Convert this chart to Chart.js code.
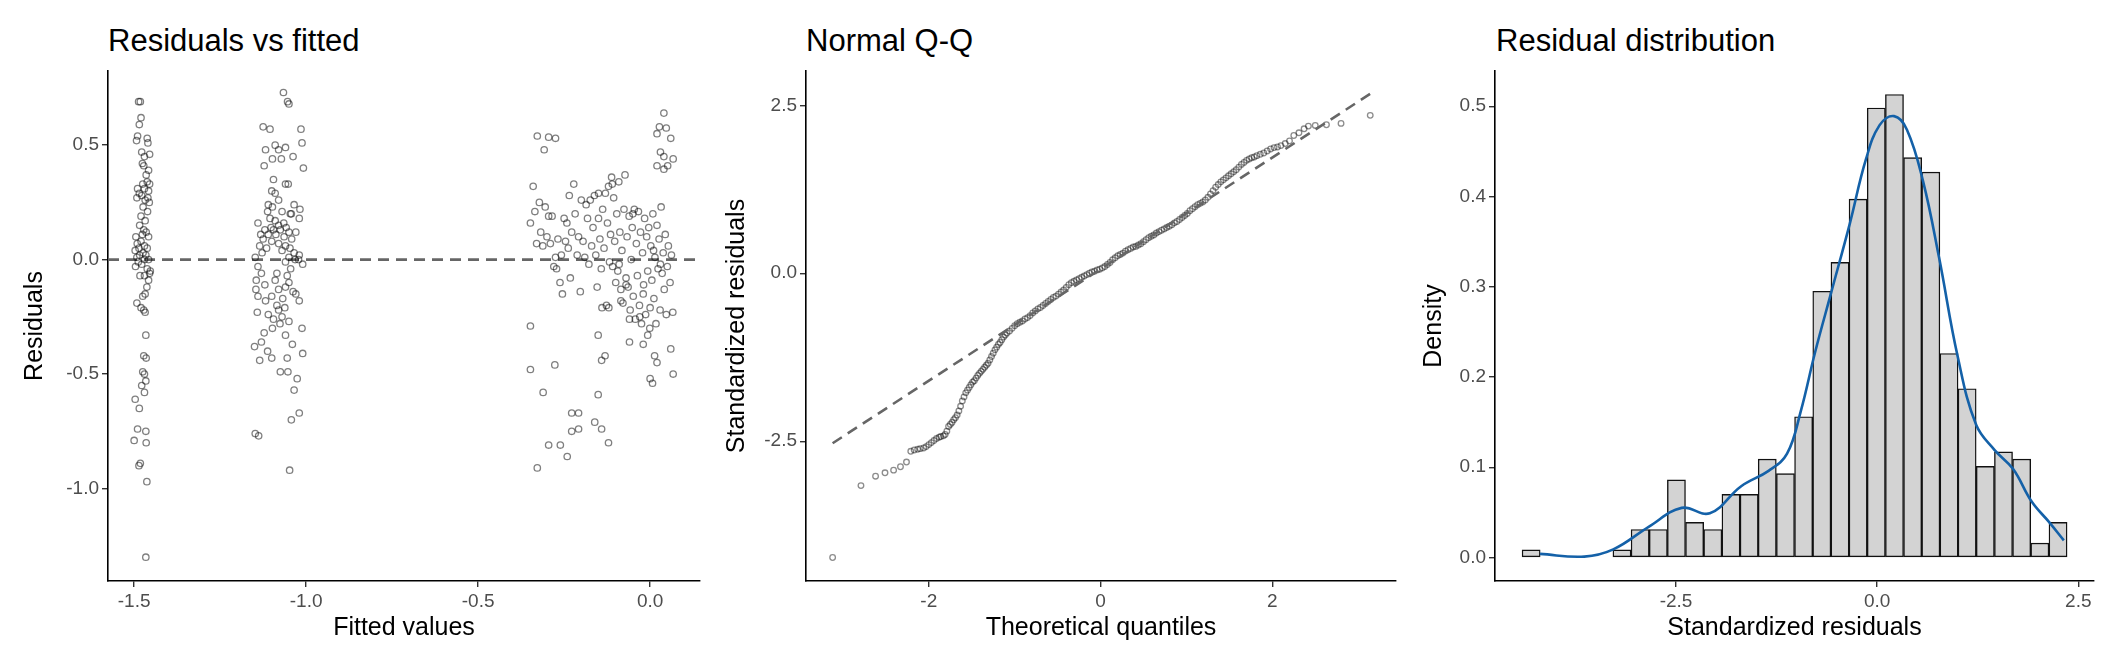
<!DOCTYPE html>
<html>
<head>
<meta charset="utf-8">
<script src="https://cdn.jsdelivr.net/npm/chart.js@4/dist/chart.umd.min.js"></script>
<style>
  body { margin: 0; background: #fff; }
  #wrap { position: relative; width: 2112px; height: 672px; overflow: hidden; }
  canvas { position: absolute; top: 0; }
  .ttl { position: absolute; top: 25px; font: 31px "Liberation Sans", Arial, sans-serif; line-height: 1; color: #000; white-space: nowrap; }
</style>
</head>
<body>
<div id="wrap">
  <div class="ttl" style="left:108px">Residuals vs fitted</div>
  <div class="ttl" style="left:806px">Normal Q-Q</div>
  <div class="ttl" style="left:1496px">Residual distribution</div>
  <div style="position:absolute;left:0;width:710px;height:672px"><canvas id="c1"></canvas></div>
  <div style="position:absolute;left:704px;width:700px;height:672px"><canvas id="c2"></canvas></div>
  <div style="position:absolute;left:1408px;width:704px;height:672px"><canvas id="c3"></canvas></div>
</div>
<script>
// residuals vs fitted, three groups of fitted values [fitted, residual]
const groupLow = [[-1.487,0.69],[-1.482,0.69],[-1.480,0.62],[-1.485,0.59],[-1.490,0.54],[-1.493,0.52],[-1.462,0.53],[-1.460,0.51],[-1.478,0.47],[-1.455,0.46],[-1.470,0.45],[-1.476,0.42],[-1.472,0.41],[-1.458,0.39],[-1.465,0.37],[-1.462,0.34],[-1.475,0.33],[-1.455,0.33],[-1.490,0.31],[-1.470,0.31],[-1.458,0.30],[-1.485,0.29],[-1.478,0.28],[-1.460,0.27],[-1.492,0.27],[-1.468,0.26],[-1.456,0.25],[-1.474,0.23],[-1.461,0.21],[-1.480,0.19],[-1.468,0.17],[-1.484,0.15],[-1.472,0.13],[-1.465,0.12],[-1.476,0.11],[-1.495,0.10],[-1.458,0.10],[-1.480,0.08],[-1.491,0.07],[-1.470,0.06],[-1.486,0.05],[-1.462,0.05],[-1.497,0.04],[-1.474,0.03],[-1.466,0.02],[-1.484,0.02],[-1.492,0.01],[-1.470,0.00],[-1.458,0.00],[-1.488,-0.01],[-1.478,-0.02],[-1.496,-0.03],[-1.462,-0.04],[-1.453,-0.05],[-1.455,-0.06],[-1.483,-0.07],[-1.470,-0.07],[-1.458,-0.09],[-1.463,-0.12],[-1.468,-0.15],[-1.475,-0.16],[-1.492,-0.19],[-1.480,-0.21],[-1.472,-0.22],[-1.468,-0.23],[-1.466,-0.33],[-1.472,-0.42],[-1.465,-0.43],[-1.475,-0.49],[-1.470,-0.50],[-1.466,-0.53],[-1.478,-0.55],[-1.470,-0.58],[-1.497,-0.61],[-1.485,-0.65],[-1.490,-0.74],[-1.466,-0.75],[-1.500,-0.79],[-1.465,-0.80],[-1.482,-0.89],[-1.486,-0.90],[-1.463,-0.97],[-1.466,-1.30]];
const groupMid = [[-1.066,0.73],[-1.054,0.69],[-1.050,0.68],[-1.125,0.58],[-1.105,0.57],[-1.015,0.57],[-1.012,0.51],[-1.090,0.50],[-1.080,0.48],[-1.118,0.48],[-1.060,0.49],[-1.038,0.45],[-1.098,0.44],[-1.072,0.44],[-1.122,0.41],[-1.008,0.40],[-1.095,0.35],[-1.060,0.33],[-1.052,0.33],[-1.100,0.30],[-1.090,0.29],[-1.080,0.26],[-1.035,0.24],[-1.110,0.24],[-1.098,0.23],[-1.018,0.22],[-1.112,0.21],[-1.070,0.21],[-1.046,0.20],[-1.043,0.20],[-1.105,0.18],[-1.020,0.18],[-1.090,0.17],[-1.065,0.16],[-1.140,0.16],[-1.080,0.15],[-1.102,0.14],[-1.058,0.14],[-1.120,0.13],[-1.095,0.13],[-1.075,0.13],[-1.050,0.12],[-1.030,0.12],[-1.132,0.11],[-1.110,0.11],[-1.088,0.11],[-1.064,0.10],[-1.125,0.09],[-1.042,0.09],[-1.100,0.08],[-1.080,0.07],[-1.060,0.06],[-1.135,0.06],[-1.115,0.05],[-1.047,0.05],[-1.070,0.04],[-1.128,0.03],[-1.035,0.03],[-1.020,0.02],[-1.148,0.01],[-1.050,0.01],[-1.032,0.00],[-1.022,0.00],[-1.060,-0.01],[-1.010,-0.02],[-1.045,-0.04],[-1.140,-0.03],[-1.130,-0.06],[-1.085,-0.06],[-1.055,-0.07],[-1.145,-0.09],[-1.090,-0.09],[-1.050,-0.10],[-1.120,-0.11],[-1.060,-0.12],[-1.146,-0.13],[-1.080,-0.13],[-1.038,-0.14],[-1.030,-0.15],[-1.140,-0.16],[-1.100,-0.16],[-1.068,-0.17],[-1.118,-0.18],[-1.020,-0.18],[-1.085,-0.20],[-1.062,-0.21],[-1.080,-0.22],[-1.142,-0.23],[-1.110,-0.24],[-1.070,-0.25],[-1.095,-0.26],[-1.050,-0.27],[-1.076,-0.28],[-1.098,-0.30],[-1.012,-0.30],[-1.122,-0.32],[-1.060,-0.33],[-1.130,-0.36],[-1.040,-0.37],[-1.150,-0.38],[-1.112,-0.40],[-1.100,-0.43],[-1.135,-0.44],[-1.055,-0.43],[-1.010,-0.41],[-1.075,-0.49],[-1.053,-0.49],[-1.026,-0.52],[-1.035,-0.57],[-1.020,-0.67],[-1.043,-0.70],[-1.148,-0.76],[-1.138,-0.77],[-1.048,-0.92]];
const groupHigh = [[-0.328,0.54],[-0.295,0.535],[-0.275,0.53],[-0.308,0.48],[0.040,0.64],[0.027,0.58],[0.047,0.575],[0.020,0.55],[0.060,0.53],[0.030,0.47],[0.040,0.45],[0.067,0.44],[0.020,0.41],[0.051,0.41],[0.040,0.395],
  [-0.348,0.16],[-0.340,0.32],[-0.335,0.21],[-0.330,0.07],[-0.322,0.25],[-0.318,0.12],[-0.312,0.06],[-0.305,0.23],[-0.300,0.10],[-0.295,0.19],[-0.290,0.07],[-0.285,0.19],[-0.280,-0.03],[-0.275,0.01],[-0.272,-0.04],[-0.268,0.09],[-0.262,-0.10],[-0.258,0.02],[-0.255,-0.15],[-0.250,0.18],[-0.246,0.08],[-0.242,0.16],[-0.238,0.05],[-0.235,0.28],[-0.232,-0.08],[-0.228,0.12],[-0.222,0.33],[-0.218,0.20],[-0.212,0.02],[-0.208,0.10],[-0.203,-0.14],[-0.200,0.26],[-0.195,0.08],[-0.190,0.01],[-0.186,0.24],[-0.182,0.18],[-0.178,-0.02],[-0.174,0.26],[-0.170,0.06],[-0.166,0.14],[-0.162,0.28],[-0.158,0.02],[-0.154,-0.12],[-0.150,0.18],[-0.146,0.09],[-0.142,-0.04],[-0.138,0.22],[-0.134,0.05],[-0.130,0.29],[-0.127,-0.20],[-0.124,0.16],[-0.121,0.32],[-0.118,-0.01],[-0.115,0.11],[-0.112,0.36],[-0.109,-0.03],[-0.106,0.27],[-0.103,0.08],[-0.100,-0.10],[-0.097,0.20],[-0.094,-0.05],[-0.091,0.34],[-0.088,0.12],[-0.085,-0.13],[-0.082,0.04],[-0.079,-0.19],[-0.076,0.22],[-0.073,0.37],[-0.070,-0.08],[-0.067,0.10],[-0.064,-0.12],[-0.061,0.19],[-0.058,-0.22],[-0.055,0.00],[-0.052,0.14],[-0.049,-0.16],[-0.046,0.22],[-0.043,-0.26],[-0.040,0.07],[-0.037,-0.07],[-0.034,0.21],[-0.031,-0.20],[-0.028,0.12],[-0.025,-0.28],[-0.022,0.03],[-0.019,-0.11],[-0.016,0.18],[-0.013,-0.24],[-0.010,0.10],[-0.007,-0.05],[-0.004,0.14],[-0.001,-0.30],[0.002,0.06],[0.005,-0.09],[0.008,0.20],[0.011,-0.17],[0.014,0.01],[0.017,-0.28],[0.020,0.15],[0.023,-0.04],[0.026,0.09],[0.029,-0.22],[0.032,0.23],[0.035,-0.06],[0.038,0.03],[0.041,-0.13],[0.044,0.11],[0.047,-0.24],[0.050,-0.03],[0.053,0.06],[0.058,-0.10],[0.062,0.02],[0.066,-0.23],[-0.140,-0.21],[-0.120,-0.21],[-0.085,-0.18],[-0.060,-0.26],[-0.030,-0.25],[0.000,-0.21],[-0.150,0.29],[-0.110,0.33],[-0.090,-0.02],[-0.070,-0.11],[-0.050,0.20],[-0.020,-0.15],[0.010,0.04],[0.030,-0.02],
  [-0.348,-0.29],[-0.348,-0.48],[-0.311,-0.58],[-0.277,-0.46],[-0.151,-0.33],[-0.141,-0.44],[-0.131,-0.42],[-0.151,-0.59],[-0.228,-0.67],[-0.208,-0.67],[-0.208,-0.74],[-0.228,-0.75],[-0.161,-0.71],[-0.141,-0.74],[-0.121,-0.80],[-0.295,-0.81],[-0.261,-0.81],[-0.241,-0.86],[-0.328,-0.91],[-0.060,-0.36],[-0.020,-0.37],[-0.007,-0.33],[0.013,-0.42],[0.020,-0.45],[0.000,-0.52],[0.007,-0.54],[0.060,-0.39],[0.067,-0.50]];

// normal Q-Q
const qqTheoretical = [-3.12,-2.79,-2.62,-2.51,-2.41,-2.33,-2.26,-2.21,-2.17,-2.13,-2.10,-2.06,-2.03,-2.00,-1.97,-1.94,-1.91,-1.88,-1.86,-1.83,-1.81,-1.79,-1.77,-1.75,-1.73,-1.71,-1.69,-1.67,-1.65,-1.63,-1.61,-1.59,-1.57,-1.55,-1.53,-1.51,-1.49,-1.47,-1.45,-1.43,-1.41,-1.39,-1.37,-1.35,-1.33,-1.31,-1.29,-1.27,-1.25,-1.23,-1.21,-1.19,-1.17,-1.15,-1.13,-1.11,-1.09,-1.06,-1.03,-1.00,-0.97,-0.94,-0.91,-0.88,-0.85,-0.82,-0.79,-0.76,-0.73,-0.70,-0.67,-0.64,-0.61,-0.58,-0.55,-0.52,-0.49,-0.46,-0.43,-0.40,-0.37,-0.34,-0.31,-0.28,-0.25,-0.22,-0.19,-0.16,-0.13,-0.10,-0.07,-0.04,-0.01,0.02,0.05,0.08,0.11,0.14,0.17,0.20,0.23,0.26,0.29,0.32,0.35,0.38,0.41,0.44,0.47,0.50,0.53,0.56,0.59,0.62,0.65,0.68,0.71,0.74,0.77,0.80,0.83,0.86,0.89,0.92,0.95,0.98,1.01,1.04,1.07,1.10,1.13,1.16,1.19,1.22,1.25,1.28,1.31,1.34,1.37,1.40,1.43,1.46,1.49,1.52,1.55,1.58,1.61,1.64,1.67,1.70,1.73,1.76,1.79,1.82,1.86,1.90,1.94,1.98,2.02,2.06,2.10,2.15,2.20,2.25,2.31,2.37,2.42,2.50,2.63,2.80,3.14];
const qqSample = [-4.23,-3.16,-3.02,-2.97,-2.93,-2.88,-2.81,-2.65,-2.63,-2.62,-2.61,-2.60,-2.58,-2.55,-2.52,-2.49,-2.46,-2.44,-2.43,-2.42,-2.40,-2.35,-2.28,-2.25,-2.22,-2.18,-2.15,-2.11,-2.05,-1.98,-1.90,-1.84,-1.78,-1.74,-1.70,-1.66,-1.62,-1.60,-1.56,-1.52,-1.49,-1.46,-1.43,-1.40,-1.37,-1.34,-1.29,-1.24,-1.19,-1.14,-1.10,-1.06,-1.03,-0.99,-0.95,-0.92,-0.89,-0.86,-0.82,-0.78,-0.75,-0.73,-0.71,-0.68,-0.66,-0.63,-0.59,-0.56,-0.53,-0.51,-0.48,-0.45,-0.42,-0.39,-0.36,-0.34,-0.31,-0.28,-0.25,-0.21,-0.17,-0.14,-0.12,-0.10,-0.08,-0.06,-0.04,-0.02,0.00,0.02,0.03,0.05,0.06,0.08,0.10,0.13,0.16,0.20,0.23,0.26,0.28,0.30,0.33,0.35,0.37,0.39,0.40,0.42,0.44,0.47,0.50,0.53,0.55,0.57,0.60,0.62,0.64,0.66,0.68,0.70,0.72,0.75,0.77,0.80,0.83,0.86,0.89,0.93,0.96,0.99,1.02,1.04,1.06,1.09,1.13,1.18,1.23,1.28,1.32,1.36,1.39,1.42,1.45,1.48,1.51,1.54,1.58,1.62,1.65,1.68,1.70,1.72,1.73,1.75,1.77,1.79,1.82,1.85,1.87,1.88,1.90,1.93,1.97,2.05,2.09,2.15,2.19,2.20,2.21,2.23,2.35];
const qqLineX = [-3.12, 3.14];
const qqLineY = [-2.53, 2.67];

// histogram of standardized residuals
const binCenters = [-4.301,-4.075,-3.849,-3.624,-3.398,-3.172,-2.946,-2.720,-2.495,-2.269,-2.043,-1.817,-1.591,-1.366,-1.140,-0.914,-0.688,-0.462,-0.237,-0.011,0.215,0.441,0.667,0.893,1.118,1.344,1.570,1.796,2.022,2.248];
const binDensity = [0.0085,0,0,0,0,0.0085,0.031,0.031,0.086,0.039,0.031,0.070,0.070,0.109,0.093,0.156,0.295,0.327,0.397,0.498,0.513,0.443,0.427,0.226,0.187,0.101,0.117,0.109,0.016,0.039];
const kdeX = [-4.19,-3.64,-3.28,-2.84,-2.43,-2.08,-1.69,-1.35,-1.12,-0.95,-0.77,-0.57,-0.34,-0.14,0.03,0.21,0.37,0.57,0.77,1.00,1.23,1.46,1.69,1.92,2.14,2.32];
const kdeY = [0.004,0.001,0.009,0.034,0.055,0.049,0.079,0.096,0.115,0.162,0.228,0.294,0.370,0.441,0.479,0.489,0.474,0.417,0.332,0.223,0.147,0.119,0.098,0.062,0.039,0.019];

const FONT = '"Liberation Sans", Arial, sans-serif';
const tickFont = { family: FONT, size: 19 };
const titleFont = { family: FONT, size: 25 };
const pointColor = 'rgba(0,0,0,0.5)';

function axis(opts) {
  return {
    type: 'linear',
    min: opts.min, max: opts.max,
    offset: false,
    border: { color: '#000', width: 1.6 },
    grid: { display: true, offset: false, drawOnChartArea: false, drawTicks: true, tickLength: 6, color: '#333', lineWidth: 1.4 },
    ticks: { stepSize: opts.step, includeBounds: false, color: '#4D4D4D', font: tickFont, padding: 3,
             callback: v => v.toFixed(opts.dec) },
    title: { display: true, text: opts.title, color: '#000', font: titleFont, padding: { top: 2, bottom: 2 } },
    afterFit: s => { if (opts.w) s.width = opts.w; if (opts.h) s.height = opts.h; }
  };
}

function baseOptions(pad, xa, ya) {
  return {
    responsive: true, maintainAspectRatio: false, animation: false,
    layout: { padding: { left: pad.left, right: pad.right, top: 71, bottom: 27 } },
    plugins: { legend: { display: false }, tooltip: { enabled: false } },
    scales: { x: xa, y: ya }
  };
}

const toXY = arr => arr.map(p => ({ x: p[0], y: p[1] }));
const scatterStyle = { type: 'scatter', pointRadius: 3.2, pointBorderWidth: 1.3, pointBackgroundColor: 'rgba(0,0,0,0)', pointBorderColor: pointColor };

new Chart(document.getElementById('c1'), {
  type: 'scatter',
  data: { datasets: [
    Object.assign({ data: toXY(groupLow) }, scatterStyle),
    Object.assign({ data: toXY(groupMid) }, scatterStyle),
    Object.assign({ data: toXY(groupHigh) }, scatterStyle),
    { type: 'line', data: [{ x: -1.576, y: 0 }, { x: 0.145, y: 0 }], borderColor: '#666', borderWidth: 2.6, borderDash: [11, 7], pointRadius: 0 }
  ] },
  options: baseOptions({ left: 18, right: 10 },
    axis({ min: -1.576, max: 0.145, step: 0.5, dec: 1, title: 'Fitted values', h: 64 }),
    axis({ min: -1.404, max: 0.824, step: 0.5, dec: 1, title: 'Residuals', w: 90 }))
});

new Chart(document.getElementById('c2'), {
  type: 'scatter',
  data: { datasets: [
    { type: 'line', data: qqLineX.map((x, i) => ({ x, y: qqLineY[i] })), borderColor: '#666', borderWidth: 2.6, borderDash: [11, 7], pointRadius: 0 },
    Object.assign({}, scatterStyle, { data: qqTheoretical.map((x, i) => ({ x, y: qqSample[i] })), pointRadius: 2.8, pointBorderColor: 'rgba(0,0,0,0.45)' })
  ] },
  options: baseOptions({ left: 16, right: 8 },
    axis({ min: -3.43, max: 3.44, step: 2, dec: 0, title: 'Theoretical quantiles', h: 64 }),
    axis({ min: -4.58, max: 3.01, step: 2.5, dec: 1, title: 'Standardized residuals', w: 86 }))
});

new Chart(document.getElementById('c3'), {
  type: 'bar',
  data: { datasets: [
    { type: 'line', data: kdeX.map((x, i) => ({ x, y: kdeY[i] })), borderColor: '#1461A8', borderWidth: 2.6, tension: 0.4, pointRadius: 0, order: 0 },
    { type: 'bar', data: binCenters.map((x, i) => ({ x, y: binDensity[i] })), backgroundColor: '#D3D3D3', borderColor: '#111', borderWidth: 1.4, borderSkipped: false, barPercentage: 1, categoryPercentage: 1, grouped: false, order: 1 }
  ] },
  options: baseOptions({ left: 9, right: 18 },
    axis({ min: -4.75, max: 2.695, step: 2.5, dec: 1, title: 'Standardized residuals', h: 64 }),
    axis({ min: -0.026, max: 0.539, step: 0.1, dec: 1, title: 'Density', w: 78 }))
});
</script>
</body>
</html>
